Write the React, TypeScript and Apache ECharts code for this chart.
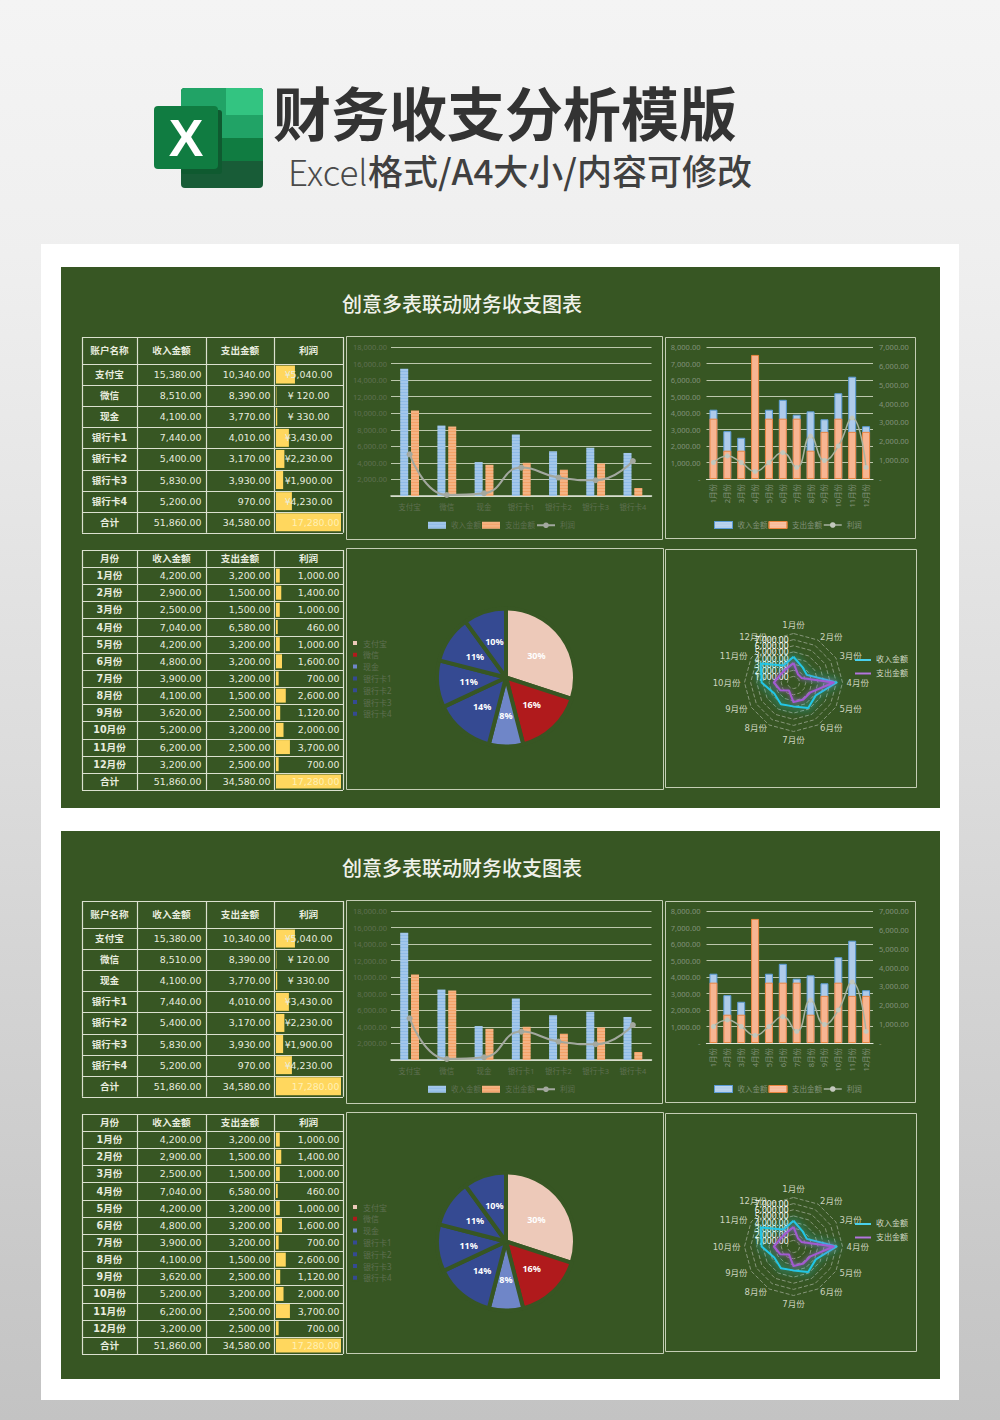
import React, { useEffect, useRef } from "react";
import * as echarts from "echarts";

const pageTitle = "财务收支分析模版";
const pageSubtitle = "格式/A4大小/内容可修改";
const pageSubtitleLatin = "Excel";
const panelTitle = "创意多表联动财务收支图表";

const accounts = ["支付宝", "微信", "现金", "银行卡1", "银行卡2", "银行卡3", "银行卡4"];
const accountIncome = [15380, 8510, 4100, 7440, 5400, 5830, 5200];
const accountExpense = [10340, 8390, 3770, 4010, 3170, 3930, 970];
const accountProfit = [5040, 120, 330, 3430, 2230, 1900, 4230];
const accountShares = [30, 16, 8, 14, 11, 11, 10];

const months = ["1月份", "2月份", "3月份", "4月份", "5月份", "6月份", "7月份", "8月份", "9月份", "10月份", "11月份", "12月份"];
const monthIncome = [4200, 2900, 2500, 7040, 4200, 4800, 3900, 4100, 3620, 5200, 6200, 3200];
const monthExpense = [3200, 1500, 1500, 6580, 3200, 3200, 3200, 1500, 2500, 3200, 2500, 2500];
const monthProfit = [1000, 1400, 1000, 460, 1000, 1600, 700, 2600, 1120, 2000, 3700, 700];

const totalLabel = "合计";
const totalIncome = 51860;
const totalExpense = 34580;
const totalProfit = 17280;

const accountHeader = ["账户名称", "收入金额", "支出金额", "利润"];
const monthHeader = ["月份", "收入金额", "支出金额", "利润"];
const incomeName = "收入金额";
const expenseName = "支出金额";
const profitName = "利润";

const GREEN = "#375623";
const LINE = "#dbe1cf";
const BOX = "#c4cdb4";
const TEXT = "#e8ecdf";
const DIM1 = "#5f7052";
const DIM2 = "#82927a";
const CJK = "'DejaVu Sans','Noto Sans CJK SC'";
const NOTO = "'Noto Sans','Noto Sans CJK SC'";
const COLS = [82, 137, 206, 274, 343];
const PIE_COLORS = ["#edc9b9", "#b01a1c", "#6f86c8", "#354a92", "#354a92", "#354a92", "#354a92"];

const money = (v: number) => v.toLocaleString("en-US", { minimumFractionDigits: 2, maximumFractionDigits: 2 });
const yen = (v: number) => (v >= 1000 ? "¥" : "¥ ") + money(v);
const axisMoney = (blank: string) => (v: number) => (v === 0 ? blank : money(v));
// The radar runs counter-clockwise, so the months are listed from the first one backwards.
const clockwiseOrder = <T,>(list: T[]) => [list[0], ...list.slice(1).reverse()];

const txt = (text: string, x: number, y: number, o: any = {}) => ({
  type: "text",
  x,
  y,
  z: 100,
  silent: true,
  style: {
    text,
    fill: o.fill || TEXT,
    fontSize: o.size || 9.4,
    fontFamily: o.family || CJK,
    fontWeight: o.weight || "normal",
    align: o.align || "center",
    verticalAlign: "middle",
  },
});

const snap = (v: number) => Math.round(v) + 0.5;
const hline = (x1: number, x2: number, y: number) => ({
  type: "line",
  z: 50,
  silent: true,
  shape: { x1, y1: snap(y), x2, y2: snap(y) },
  style: { stroke: LINE, lineWidth: 1.2 },
});
const vline = (x: number, y1: number, y2: number) => ({
  type: "line",
  z: 50,
  silent: true,
  shape: { x1: snap(x), y1, x2: snap(x), y2 },
  style: { stroke: LINE, lineWidth: 1.2 },
});
const box = (x: number, y: number, width: number, height: number) => ({
  type: "rect",
  z: 40,
  silent: true,
  shape: { x: x + 0.5, y: y + 0.5, width, height },
  style: { fill: "none", stroke: BOX, lineWidth: 1 },
});

function table(
  top: number,
  headerH: number,
  rowH: number,
  header: string[],
  names: string[],
  income: number[],
  expense: number[],
  profit: number[],
  yenStyle: boolean
) {
  const out: any[] = [];
  const n = names.length + 1;
  const bottom = top + headerH + rowH * n;
  COLS.forEach((x) => out.push(vline(x, top, bottom)));
  out.push(hline(COLS[0], COLS[4], top));
  for (let i = 0; i <= n; i++) out.push(hline(COLS[0], COLS[4], top + headerH + rowH * i));
  const hy = top + headerH / 2;
  header.forEach((h, i) => out.push(txt(h, (COLS[i] + COLS[i + 1]) / 2, hy, { weight: "bold", size: 9.6 })));
  const rows = names.map((name, i) => [name, income[i], expense[i], profit[i]] as [string, number, number, number]);
  rows.push([totalLabel, totalIncome, totalExpense, totalProfit]);
  rows.forEach((r, i) => {
    const y = top + headerH + rowH * (i + 0.5);
    const isTotal = i === rows.length - 1;
    out.push(txt(r[0], 109.5, y, { weight: "bold", size: 9.6 }));
    out.push(txt(money(r[1]), 201.5, y, { align: "right" }));
    out.push(txt(money(r[2]), 270.5, y, { align: "right" }));
    if (isTotal) out.push(txt(money(r[3]), 339.5, y, { align: "right", fill: "#fff0b4" }));
    else if (yenStyle) out.push(txt(yen(r[3]), 308.5, y));
    else out.push(txt(money(r[3]), 339.5, y, { align: "right" }));
  });
  return out;
}

function buildOption() {
  const graphic: any[] = [
    {
      type: "rect",
      z: -100,
      silent: true,
      shape: { x: 0, y: 0, width: 1000, height: 1420 },
      style: {
        fill: {
          type: "linear",
          x: 0,
          y: 0,
          x2: 0,
          y2: 1,
          colorStops: [
            { offset: 0, color: "#f4f4f4" },
            { offset: 0.18, color: "#efefef" },
            { offset: 1, color: "#c3c3c3" },
          ],
        },
      },
    },
    { type: "rect", z: -90, silent: true, shape: { x: 41, y: 244, width: 918, height: 1156 }, style: { fill: "#ffffff" } },
    // Excel logo
    { type: "rect", z: -50, silent: true, shape: { x: 181, y: 88, width: 82, height: 100, r: 4 }, style: { fill: "#185c37" } },
    { type: "rect", z: -49, silent: true, shape: { x: 181, y: 88, width: 82, height: 73, r: [4, 4, 0, 0] }, style: { fill: "#107c41" } },
    { type: "rect", z: -48, silent: true, shape: { x: 181, y: 88, width: 82, height: 50, r: [4, 4, 0, 0] }, style: { fill: "#21a366" } },
    { type: "rect", z: -47, silent: true, shape: { x: 226, y: 88, width: 37, height: 27, r: [0, 4, 0, 0] }, style: { fill: "#33c481" } },
    { type: "rect", z: -46, silent: true, shape: { x: 181, y: 110, width: 41, height: 64, r: 3 }, style: { fill: "#0f5a30" } },
    { type: "rect", z: -45, silent: true, shape: { x: 154, y: 106, width: 64, height: 63, r: 4 }, style: { fill: "#107c41" } },
    txt("X", 186, 137.5, { fill: "#ffffff", size: 52, weight: "bold", family: "'Liberation Sans'" }),
    txt(pageTitle, 505, 110.5, { fill: "#333333", size: 58, weight: "bold", family: "'Noto Sans CJK SC'" }),
    txt(pageSubtitleLatin, 288, 170, { fill: "#4a4a4a", size: 35, weight: 300, family: "'Noto Sans CJK SC'", align: "left" }),
    txt(pageSubtitle, 752, 169, { fill: "#404040", size: 35, weight: 500, family: "'Noto Sans CJK SC'", align: "right" }),
  ];
  const grid: any[] = [];
  const xAxis: any[] = [];
  const yAxis: any[] = [];
  const series: any[] = [];
  const legend: any[] = [];
  const radar: any[] = [];

  const panels = [
    { off: 0, y: 267, h: 541 },
    { off: 564, y: 831, h: 548 },
  ];

  panels.forEach(({ off, y, h }, pi) => {
    graphic.push({ type: "rect", z: -80, silent: true, shape: { x: 61, y, width: 879, height: h }, style: { fill: GREEN } });
    graphic.push(txt(panelTitle, 462, 303 + off, { fill: "#f0f2ea", size: 20, weight: 500, family: "'Noto Sans CJK SC'" }));
    graphic.push(...table(337 + off, 27, 21.1, accountHeader, accounts, accountIncome, accountExpense, accountProfit, true));
    graphic.push(...table(550 + off, 17, 17.15, monthHeader, months, monthIncome, monthExpense, monthProfit, false));
    graphic.push(box(346, 336 + off, 316, 203), box(665, 337 + off, 250, 201), box(346, 548 + off, 317, 241), box(665, 549 + off, 251, 238));

    // data bars inside the two tables
    const addDataBars = (top: number, height: number, names: string[], values: number[], barW: number) => {
      const g = grid.length;
      grid.push({ left: 276, width: 65, top, height });
      xAxis.push({ gridIndex: g, type: "value", min: 0, max: totalProfit, show: false });
      yAxis.push({ gridIndex: g, type: "category", inverse: true, data: [...names, totalLabel], show: false });
      series.push({
        type: "bar",
        xAxisIndex: xAxis.length - 1,
        yAxisIndex: yAxis.length - 1,
        silent: true,
        barWidth: barW,
        itemStyle: { color: "#ffd75e" },
        data: [...values, totalProfit],
      });
    };
    addDataBars(364 + off, 21.1 * 8, accounts, accountProfit, 18);
    addDataBars(567 + off, 17.15 * 13, months, monthProfit, 14);

    // account bar + line chart
    {
      const g = grid.length;
      grid.push({ left: 391, width: 260.5, top: 347 + off, height: 149 });
      xAxis.push({
        gridIndex: g,
        type: "category",
        data: accounts,
        axisLine: { lineStyle: { color: "#e0e5d8", width: 1.5 } },
        axisTick: { show: false },
        axisLabel: { color: DIM1, fontSize: 7.5, fontFamily: NOTO, interval: 0, margin: 7 },
      });
      yAxis.push({
        gridIndex: g,
        type: "value",
        min: 0,
        max: 18000,
        interval: 2000,
        axisLine: { show: false },
        axisTick: { show: false },
        axisLabel: { color: DIM1, fontSize: 7.5, fontFamily: NOTO, margin: 4, formatter: axisMoney("") },
        splitLine: { lineStyle: { color: "#bcc7ac", width: 1.2 } },
      });
      const xi = xAxis.length - 1;
      const yi = yAxis.length - 1;
      const stripe = { symbol: "rect", symbolSize: 1, dashArrayX: [1, 0], dashArrayY: [2, 1], color: "rgba(255,255,255,0.18)", rotation: 0 };
      series.push({
        type: "bar",
        name: incomeName,
        xAxisIndex: xi,
        yAxisIndex: yi,
        barWidth: 8,
        barGap: "35%",
        itemStyle: { color: "#8fbbe6", decal: stripe },
        data: accountIncome,
      });
      series.push({
        type: "bar",
        name: expenseName,
        xAxisIndex: xi,
        yAxisIndex: yi,
        barWidth: 8,
        itemStyle: { color: "#f3a268", decal: stripe },
        data: accountExpense,
      });
      series.push({
        type: "line",
        name: profitName,
        xAxisIndex: xi,
        yAxisIndex: yi,
        smooth: true,
        symbol: "circle",
        symbolSize: 6,
        lineStyle: { color: "#a3a89f", width: 2 },
        itemStyle: { color: "#a3a89f" },
        data: accountProfit,
      });
      legend.push({
        left: 428,
        top: 521.5 + off,
        padding: 0,
        itemWidth: 18,
        itemHeight: 7,
        itemGap: 1,
        textStyle: { color: DIM1, fontSize: 7.5, fontFamily: NOTO },
        data: [
          { name: incomeName, icon: "rect", itemStyle: { color: "#8fbbe6" } },
          { name: expenseName, icon: "rect", itemStyle: { color: "#f3a268" } },
          { name: profitName, itemStyle: { color: "#a3a89f" }, lineStyle: { color: "#a3a89f", width: 2 } },
        ],
      });
    }

    // month bar + line chart with two value axes
    {
      const g = grid.length;
      grid.push({ left: 706.5, width: 166.5, top: 347 + off, height: 132 });
      xAxis.push({
        gridIndex: g,
        type: "category",
        data: months,
        axisLine: { lineStyle: { color: "#e0e5d8", width: 1.2 } },
        axisTick: { show: false },
        axisLabel: { color: DIM2, fontSize: 7.5, fontFamily: NOTO, interval: 0, rotate: 90, margin: 5 },
      });
      yAxis.push({
        gridIndex: g,
        type: "value",
        min: 0,
        max: 8000,
        interval: 1000,
        axisLine: { show: false },
        axisTick: { show: false },
        axisLabel: { color: DIM2, fontSize: 7.5, fontFamily: NOTO, margin: 6, formatter: axisMoney("-") },
        splitLine: { lineStyle: { color: "#bcc7ac", width: 1.2 } },
      });
      const yLeft = yAxis.length - 1;
      yAxis.push({
        gridIndex: g,
        type: "value",
        position: "right",
        min: 0,
        max: 7000,
        interval: 1000,
        axisLine: { show: false },
        axisTick: { show: false },
        axisLabel: { color: DIM2, fontSize: 7.5, fontFamily: NOTO, margin: 6, formatter: axisMoney("-") },
        splitLine: { show: false },
      });
      const yRight = yAxis.length - 1;
      const xi = xAxis.length - 1;
      series.push({
        type: "bar",
        name: incomeName,
        xAxisIndex: xi,
        yAxisIndex: yLeft,
        barWidth: 8,
        barGap: "-100%",
        itemStyle: { color: "#aecbea", borderColor: "#5b9bd5", borderWidth: 1 },
        data: monthIncome,
      });
      series.push({
        type: "bar",
        name: expenseName,
        xAxisIndex: xi,
        yAxisIndex: yRight,
        barWidth: 8,
        itemStyle: { color: "#f7b592", borderColor: "#e9843f", borderWidth: 1 },
        data: monthExpense,
      });
      series.push({
        type: "line",
        name: profitName,
        xAxisIndex: xi,
        yAxisIndex: yLeft,
        smooth: true,
        symbol: "circle",
        symbolSize: 5,
        lineStyle: { color: "#a8b2a0", width: 1.5 },
        itemStyle: { color: "#c3c8bd" },
        data: monthProfit,
      });
      legend.push({
        left: 714,
        top: 521 + off,
        padding: 0,
        itemWidth: 18,
        itemHeight: 7,
        itemGap: 1,
        textStyle: { color: DIM2, fontSize: 7.5, fontFamily: NOTO },
        data: [
          { name: incomeName, icon: "rect", itemStyle: { color: "#aecbea", borderColor: "#5b9bd5", borderWidth: 1 } },
          { name: expenseName, icon: "rect", itemStyle: { color: "#f7b592", borderColor: "#e9843f", borderWidth: 1 } },
          { name: profitName, itemStyle: { color: "#c3c8bd" }, lineStyle: { color: "#a8b2a0", width: 1.5 } },
        ],
      });
    }

    // pie
    series.push({
      type: "pie",
      center: [506, 677.5 + off],
      radius: 69,
      startAngle: 90,
      clockwise: true,
      silent: true,
      itemStyle: { borderColor: GREEN, borderWidth: 4 },
      label: { position: "inside", formatter: "{d}%", color: "#ffffff", fontSize: 9, fontWeight: "bold", fontFamily: NOTO },
      labelLine: { show: false },
      data: accounts.map((name, i) => ({ name, value: accountShares[i], itemStyle: { color: PIE_COLORS[i] } })),
    });
    legend.push({
      orient: "vertical",
      left: 351,
      top: 639 + off,
      padding: 0,
      itemWidth: 6,
      itemHeight: 6,
      itemGap: 3.8,
      icon: "rect",
      textStyle: { color: DIM1, fontSize: 8, fontFamily: NOTO },
      data: accounts.map((name) => ({ name })),
    });

    // radar
    radar.push({
      center: [793.5, 682.5 + off],
      radius: 49,
      startAngle: 90,
      splitNumber: 8,
      axisName: { color: "#cdd4bf", fontSize: 8.5, fontFamily: CJK },
      axisNameGap: 4,
      splitLine: { lineStyle: { color: "#86967a", type: "dashed", width: 1 } },
      splitArea: { show: false },
      axisLine: { show: false },
      axisTick: { show: false },
      axisLabel: { show: false },
      indicator: clockwiseOrder(months).map((name, i) =>
        i === 0
          ? {
              name,
              min: 0,
              max: 8000,
              axisLabel: { show: true, color: "#ffffff", fontSize: 8.5, fontFamily: NOTO, margin: 5, formatter: axisMoney("-") },
            }
          : { name, min: 0, max: 8000 }
      ),
    });
    series.push({
      type: "radar",
      radarIndex: pi,
      symbol: "none",
      silent: true,
      data: [
        {
          name: incomeName,
          value: clockwiseOrder(monthIncome),
          lineStyle: { color: "#22c6e6", width: 2, shadowBlur: 8, shadowColor: "#22e0f0" },
          itemStyle: { color: "#22c6e6" },
        },
        {
          name: expenseName,
          value: clockwiseOrder(monthExpense),
          lineStyle: { color: "#a25ad2", width: 2, shadowBlur: 4, shadowColor: "#a25ad2" },
          itemStyle: { color: "#a25ad2" },
        },
      ],
    });
    legend.push({
      orient: "vertical",
      left: 855,
      top: 656 + off,
      padding: 0,
      itemWidth: 16,
      itemHeight: 2,
      itemGap: 5.5,
      textStyle: { color: "#d2d9c4", fontSize: 8, fontFamily: CJK },
      data: [
        { name: incomeName, icon: "rect", itemStyle: { color: "#22c6e6" } },
        { name: expenseName, icon: "rect", itemStyle: { color: "#a25ad2" } },
      ],
    });
  });

  return { animation: false, tooltip: { show: false }, graphic, grid, xAxis, yAxis, radar, series, legend };
}

export default function App() {
  const ref = useRef<HTMLDivElement>(null);
  useEffect(() => {
    document.body.style.margin = "0";
    const chart = echarts.init(ref.current!, undefined, { renderer: "svg" });
    chart.setOption(buildOption() as any);
    return () => chart.dispose();
  }, []);
  return <div ref={ref} style={{ width: 1000, height: 1420 }} />;
}
